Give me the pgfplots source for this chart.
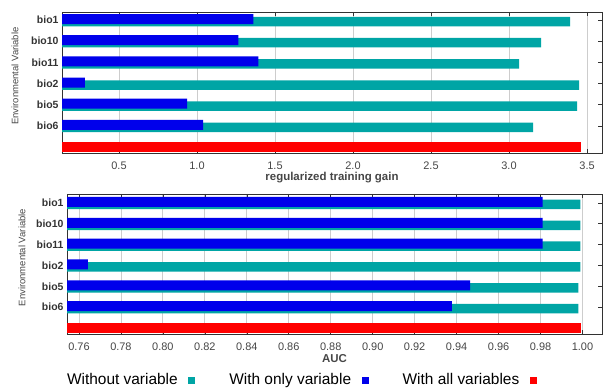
\documentclass[border=0pt]{standalone}
\usepackage{fontspec}
\setmainfont{Liberation Sans}
\usepackage{pgfplots}
\pgfplotsset{compat=1.18}
\definecolor{mblue}{RGB}{0,0,235}
\definecolor{mteal}{RGB}{0,165,165}
\definecolor{mred}{RGB}{255,0,0}
\definecolor{gridc}{RGB}{205,205,205}
\definecolor{framec}{RGB}{50,50,50}
\definecolor{labc}{RGB}{70,70,70}
\pgfplotsset{jack/.style={
  scale only axis, xbar,
  ytick={1,2,3,4,5,6}, yticklabels={bio6,bio5,bio2,bio11,bio10,bio1},
  yticklabel style={font=\fontsize{10.5}{12}\selectfont\bfseries, text=black!80},
  xticklabel style={font=\fontsize{11}{12}\selectfont, text=labc, yshift=-5bp},
  /pgf/number format/assume math mode=true,
  xmajorgrids, major grid style={gridc, line width=0.8bp},
  axis line style={framec, line width=0.8bp},
  tick style={framec, line width=0.6bp},
  major tick length=4bp,
  tick align=inside,
  ylabel={Environmental Variable},
  ylabel style={font=\fontsize{9.5}{11}\selectfont, text=labc, anchor=center},
  xlabel style={font=\fontsize{11.5}{13}\selectfont\bfseries, text=labc, anchor=center},
  legend image code/.code={\fill[##1,draw=none] (0bp,-3.5bp) rectangle (7bp,3.5bp);},
}}
\begin{document}
\begin{tikzpicture}
\useasboundingbox (0,0) rectangle (603bp,390bp);
% top panel: regularized training gain
\begin{axis}[jack,
  at={(62bp,237bp)}, anchor=south west,
  width=540bp, height=141bp,
  xmin=0.1346, xmax=3.596, ymin=-0.28, ymax=6.38,
  xtick={0.5,1.0,1.5,2.0,2.5,3.0,3.5},
  xticklabel style={/pgf/number format/.cd, fixed, fixed zerofill, precision=1},
  xlabel={regularized training gain},
  xlabel style={at={(axis description cs:0.5,-0.174)}},
  ylabel style={at={(axis description cs:-0.087,0.546)}},
]
\addplot[fill=mteal, draw=none, bar width=9.5bp, bar shift=-1.5bp]
  coordinates {(3.154,1) (3.437,2) (3.450,3) (3.064,4) (3.206,5) (3.392,6)};
\addplot[fill=mblue, draw=none, bar width=10bp, bar shift=1bp]
  coordinates {(1.040,1) (0.937,2) (0.281,3) (1.393,4) (1.265,5) (1.361,6)};
\addplot[fill=mred, draw=none, bar width=10bp, bar shift=0bp]
  coordinates {(3.463,0)};
\end{axis}
% bottom panel: AUC
\begin{axis}[jack,
  at={(67bp,56bp)}, anchor=south west,
  width=535bp, height=140bp,
  xmin=0.7543, xmax=1.0093, ymin=-0.29, ymax=6.43,
  xtick={0.76,0.78,0.80,0.82,0.84,0.86,0.88,0.90,0.92,0.94,0.96,0.98,1.00},
  xticklabel style={/pgf/number format/.cd, fixed, fixed zerofill, precision=2},
  xlabel={AUC},
  xlabel style={at={(axis description cs:0.5,-0.175)}},
  ylabel style={at={(axis description cs:-0.084,0.546)}},
  legend columns=3,
  legend plot pos=right,
  legend style={draw=none, fill=none, inner sep=0pt,
    at={(axis description cs:-0.004,-0.329)}, anchor=west,
    font=\fontsize{15.5}{17}\selectfont,
    /tikz/every even column/.append style={column sep=32bp},
    /tikz/every odd column/.append style={column sep=8.5bp}},
]
\addplot[fill=mteal, draw=none, bar width=9.5bp, bar shift=-1.5bp]
  coordinates {(0.998,1) (0.998,2) (0.999,3) (0.999,4) (0.999,5) (0.999,6)};
\addlegendentry{Without variable}
\addplot[fill=mblue, draw=none, bar width=10bp, bar shift=1bp]
  coordinates {(0.9378,1) (0.9464,2) (0.7643,3) (0.981,4) (0.981,5) (0.981,6)};
\addlegendentry{With only variable}
\addplot[fill=mred, draw=none, bar width=10bp, bar shift=0bp]
  coordinates {(0.9995,0)};
\addlegendentry{With all variables}
\end{axis}
\end{tikzpicture}
\end{document}
